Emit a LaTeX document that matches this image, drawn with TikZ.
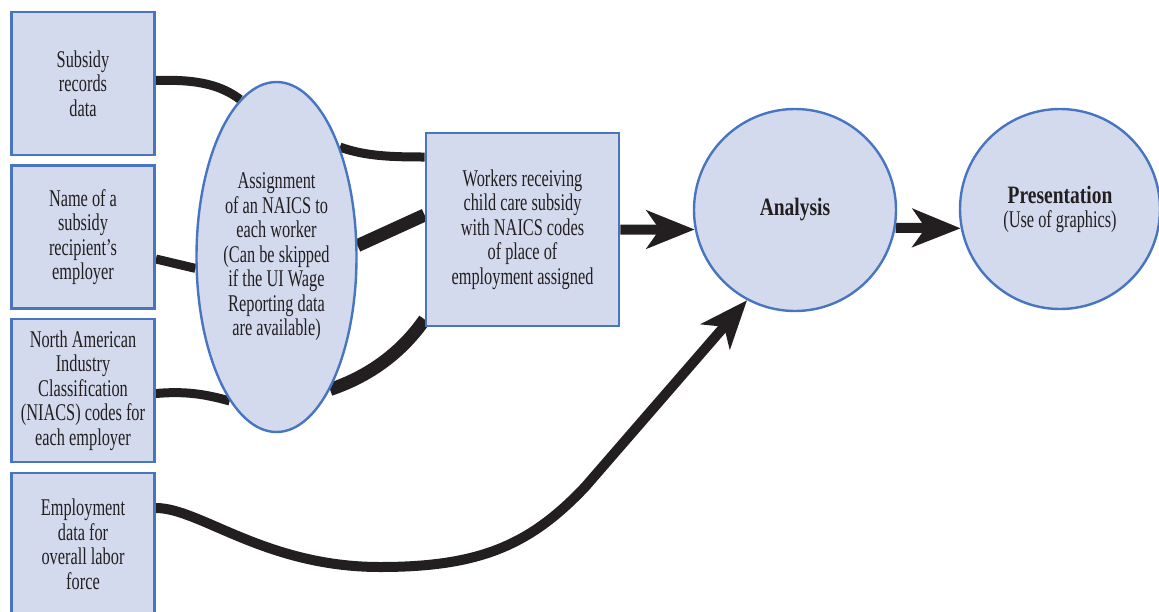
\documentclass[tikz,border=0pt]{standalone}
\usepackage{fontspec}
\setmainfont{Liberation Serif}[FakeStretch=0.68]
\newfontfamily\headfont{Liberation Serif}[FakeStretch=0.78]
\usetikzlibrary{positioning,calc}
\usetikzlibrary{backgrounds}
\usetikzlibrary{arrows.meta, shapes.geometric}

\definecolor{boxfill}{RGB}{211,218,237}
\definecolor{boxline}{RGB}{72,117,192}
\definecolor{ink}{RGB}{35,31,32}

\tikzset{
  databox/.style = {draw = boxline, line width = 2.8pt, fill = boxfill, minimum width = 143pt, minimum height = 143pt, inner sep = 0pt, align = center, text = ink, font = \fontsize{24}{24.5}\selectfont},
  roundnode/.style = {draw = boxline, line width = 2.4pt, fill = boxfill, circle, inner sep = 0pt, align = center, text = ink, font = \fontsize{24}{24}\selectfont},
  link/.style = {draw = ink, line width = 9pt},
  thicklink/.style = {draw = ink, line width = 13pt},
  flow/.style = {draw = ink, line width = 10pt, -{Stealth[length = 48pt, width = 38pt, inset = 13pt]}}
}

\begin{document}
\begin{tikzpicture}[x = 1pt, y = -1pt]
  \useasboundingbox (0,0) rectangle (1159,611);

  % Data sources
  \node[databox] (subsidy) at (83,83.5) {Subsidy\\records\\data};
  \node[databox] (employer) at (83,237) {Name of a\\subsidy\\recipient's\\employer};
  \node[databox] (naics) at (83,390.5) {North American\\Industry\\Classification\\(NIACS) codes for\\each employer};
  \node[databox] (labor) at (83,544.5) {Employment\\data for\\overall labor\\force};

  % Assignment step
  \node[databox, ellipse, line width = 2.4pt, minimum width = 160pt, minimum height = 350pt] (assign) at (276.5,257)
    {Assignment\\of an NAICS to\\each worker\\(Can be skipped\\if the UI Wage\\Reporting data\\are available)};
  \node[databox, minimum width = 193pt, minimum height = 193pt] (workers) at (522.5,229.5)
    {Workers receiving\\child care subsidy\\with NAICS codes\\of place of\\employment assigned};

  % Analysis and presentation
  \node[roundnode, minimum size = 202pt] (analysis) at (795,210) {\headfont\bfseries\fontsize{25}{25}\selectfont Analysis};
  \node[roundnode, minimum size = 200pt] (presentation) at (1060,209)
    {{\headfont\bfseries\fontsize{25}{25}\selectfont Presentation}\\(Use of graphics)};

  % Connectors
  \begin{scope}[on background layer]
    \draw[link] ([yshift = 3pt]subsidy.east) .. controls (200,79) and (222,86) .. (assign.103);
    \draw[link] (assign.60) .. controls (365,156) and (390,157) .. ([yshift = 72.5pt]workers.west);
    \draw[link] ([yshift = -22pt]employer.east) -- (assign.188);
    \draw[thicklink] (assign.8) -- ([yshift = 14.5pt]workers.west);
    \draw[link] ([yshift = -3pt]naics.east) .. controls (185,391) and (205,394) .. (assign.252);
    \draw[thicklink] (assign.292) .. controls (370,376) and (402,352) .. ([yshift = 8pt]workers.south west);
    \draw[flow] ([yshift = 36.5pt]labor.east) .. controls (200,508) and (265,567) .. (380,567)
      .. controls (480,567) and (530,545) .. (585,487) -- (analysis.242);
    \draw[flow] (workers.east) -- (analysis.191);
    \draw[flow] (analysis.-10) -- (presentation.191);
  \end{scope}
\end{tikzpicture}
\end{document}
